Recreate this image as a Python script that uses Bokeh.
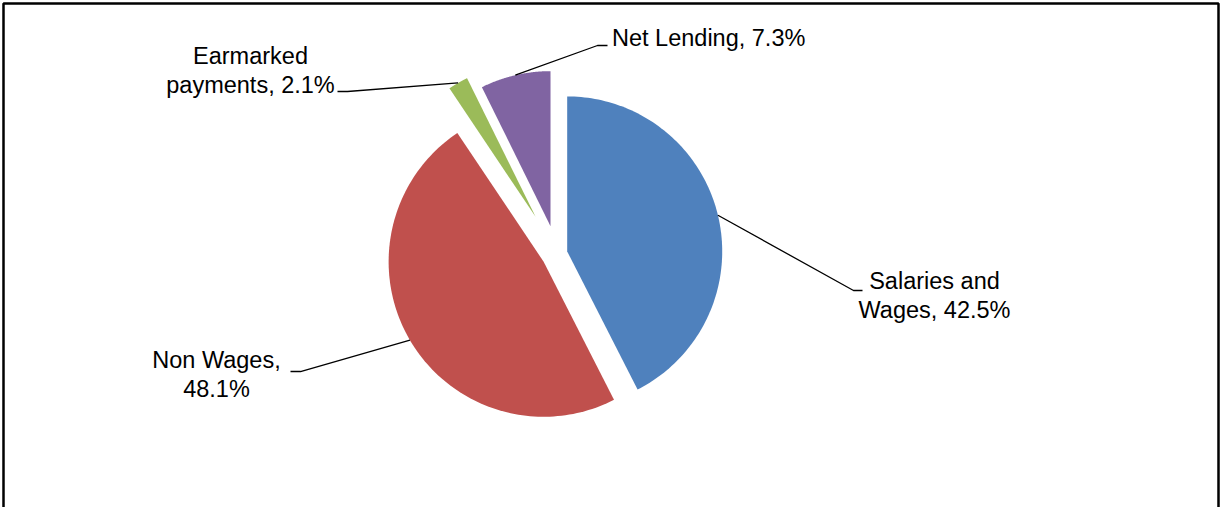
import numpy as np
from bokeh.plotting import figure
from bokeh.models import Range1d, ColumnDataSource
from bokeh.core.properties import value
from bokeh.embed import file_html
from bokeh.resources import INLINE

# ---- data ----
categories = ["Salaries and Wages", "Non Wages", "Earmarked payments", "Net Lending"]
values = [42.5, 48.1, 2.1, 7.3]
colors = ["#4F81BD", "#C0504D", "#9BBB59", "#8064A2"]

# ---- layout / style (pixels) ----
W, H = 1221, 507
cx, cy, R = 556.5, 253.4, 155.0
explode = [10.5, 15.5, 42.5, 28.5]
break_at = [12, 10, 9, None]
TEXT_DY = -7.5
label_anchor = [(934, 288, "center"), (216, 367, "center"), (250, 63.3, "center"), (611.5, 45, "left")]
label_elbow = [(853, 290), (300, 371), (347, 91), (597, 45)]
label_end = [(862, 290), (290, 371), (337, 91), (607, 45)]
LINE_GAP = 28.5
FONT = value("Liberation Sans")
FSIZE = "23.5px"

p = figure(width=W, height=H, output_backend="svg", toolbar_location=None,
           x_range=Range1d(0, W), y_range=Range1d(H, 0),
           min_border=0, outline_line_color=None, background_fill_color="white")
p.axis.visible = False
p.grid.visible = False

total = float(sum(values))
cum = np.concatenate([[0.0], np.cumsum(values)]) / total
xs, ys, mids = [], [], []
for i in range(len(values)):
    t0, t1 = cum[i] * 2 * np.pi, cum[i + 1] * 2 * np.pi
    tm = (t0 + t1) / 2
    vx = cx + explode[i] * np.sin(tm)
    vy = cy - explode[i] * np.cos(tm)
    th = np.linspace(t0, t1, 120)
    px = np.concatenate([[vx], vx + R * np.sin(th)])
    py = np.concatenate([[vy], vy - R * np.cos(th)])
    xs.append(list(px))
    ys.append(list(py))
    mids.append((vx + R * np.sin(tm), vy - R * np.cos(tm)))

p.patches(xs=xs, ys=ys, fill_color=colors, line_color=None)

# leader lines
lx, ly = [], []
for i in range(len(values)):
    m = mids[i]
    lx.append([m[0], label_elbow[i][0], label_end[i][0]])
    ly.append([m[1], label_elbow[i][1], label_end[i][1]])
p.multi_line(xs=lx, ys=ly, line_color="black", line_width=1.3)

# labels
tx, ty, tt, ta = [], [], [], []
for i, (c, v) in enumerate(zip(categories, values)):
    s = f"{c}, {v}%"
    if break_at[i] is not None:
        s = s[:break_at[i]] + "\n" + s[break_at[i] + 1:]
    ax, ay, al = label_anchor[i]
    for j, line in enumerate(s.split("\n")):
        tx.append(ax)
        ty.append(ay + TEXT_DY + j * LINE_GAP)
        tt.append(line)
        ta.append(al)
src = ColumnDataSource(dict(x=tx, y=ty, text=tt, align=ta))
p.text(x="x", y="y", text="text", text_align="align", source=src,
       text_baseline="alphabetic", text_font=FONT, text_font_size=FSIZE,
       text_color="black")

# chart border (left, top, right)
p.line(x=[3, 3, 1218, 1218], y=[H, 3, 3, H], line_color="black", line_width=2.5)

open("out.html", "w").write(file_html(p, INLINE))
